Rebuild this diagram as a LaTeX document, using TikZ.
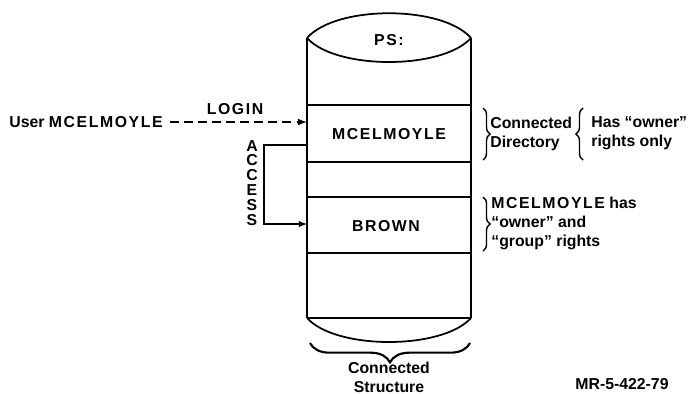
\documentclass[tikz,border=0pt]{standalone}
\usepackage{fontspec}
\setmainfont{Liberation Sans}
\usetikzlibrary{decorations.pathreplacing}

\tikzset{
  caps/.style={font=\fontsize{9}{10.8}\selectfont\bfseries\addfontfeature{LetterSpace=10}, inner sep=1pt},
  note/.style={font=\fontsize{9}{10.8}\selectfont\bfseries, align=left, anchor=west, inner sep=0pt},
  curly/.style={decorate, decoration={brace, amplitude=#1}, line width=0.8pt},
  wall/.style={line width=1pt},
}

\begin{document}
\begin{tikzpicture}[x=0.02cm, y=-0.02cm]
    \useasboundingbox (0,0) rectangle (695,393);
    % cylinder corners
    \coordinate (tl) at (307,38);
    \coordinate (tr) at (471,38);
    \coordinate (bl) at (307,318);
    \coordinate (br) at (471,318);
    % cylinder outline
    \draw[wall] (tl) -- (bl) (tr) -- (br);
    \draw[wall] (tl) .. controls (336,5) and (442,5) .. (tr);
    \draw[wall] (tl) .. controls (336,70) and (442,70) .. (tr);
    \draw[wall] (bl) .. controls (336,350) and (442,350) .. (br);
    % rows
    \foreach \y in {105,162,197,253,318}
        \draw[wall] (307,\y) -- (471,\y);
    % row labels
    \node[caps] (ps) at (389,40) {PS:};
    \node[caps] (mcel) at (389,134) {MCELMOYLE};
    \node[caps] (brown) at (386,226) {BROWN};
    % login
    \node[note, anchor=east] (user) at (163,122) {User {\addfontfeature{LetterSpace=10}MCELMOYLE}};
    \draw[dash pattern=on 5pt off 3pt, line width=0.8pt, -latex, shorten <=4pt] (user) -- (user -| tl)
        node[midway, above=3pt, caps] (login) {LOGIN};
    % access
    \coordinate (acc1) at (307,145);
    \coordinate (acc2) at (307,224);
    \node[caps, align=center, font=\fontsize{9}{8.5}\selectfont\bfseries] (access) at (252,183) {A\\C\\C\\E\\S\\S};
    \draw[line width=0.6pt, -latex] (acc1) -- ++(-43,0) |- (acc2);
    % side notes
    \draw[curly=4pt] (483,108) -- (483,160);
    \node[note] (conn) at (490,133.5) {Connected\\Directory};
    \draw[curly=4pt] (583,160) -- (583,108);
    \node[note] (owner) at (591,133.5) {Has “owner”\\rights only};
    \draw[curly=4pt] (483,197) -- (483,251);
    \node[note] (both) at (491,223.5) {{\addfontfeature{LetterSpace=10}MCELMOYLE} has\\“owner” and\\“group” rights};
    % bottom
    \draw[curly=11pt, line width=1.2pt] (470,343) -- (310,343);
    \node[note, anchor=center, align=center] (struct) at (389,377) {Connected\\Structure};
    \node[note, anchor=center] (mr) at (622,384) {MR-5-422-79};
\end{tikzpicture}
\end{document}
